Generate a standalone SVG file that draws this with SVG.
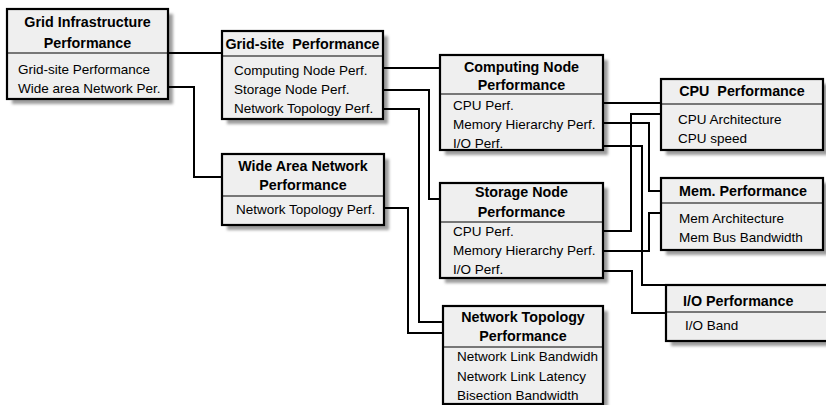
<svg xmlns="http://www.w3.org/2000/svg" width="826" height="405" viewBox="0 0 826 405">
<defs>
<filter id="blur" x="-10%" y="-10%" width="130%" height="130%"><feGaussianBlur stdDeviation="1.5"/></filter>
<style>
.sh{fill:#9c9c9c;filter:url(#blur)}
.box{fill:#efefef;stroke:#000;stroke-width:2.2}
.dv{stroke:#000;stroke-width:1.2}
.t{font-family:"Liberation Sans",Arial,sans-serif;font-weight:bold;font-size:14.3px;text-anchor:middle;fill:#000;white-space:pre}
.i{font-family:"Liberation Sans",Arial,sans-serif;font-size:13.5px;fill:#000}
.c{fill:none;stroke:#000;stroke-width:2}
</style>
</defs>
<rect width="826" height="405" fill="#fff"/>

<g id="grid-infrastructure">
<rect class="sh" x="12" y="14" width="161" height="90"/>
<rect class="box" x="7" y="9" width="161" height="90"/>
<line class="dv" x1="7" y1="53" x2="168" y2="53"/>
<text class="t" x="87.5" y="27">Grid Infrastructure</text>
<text class="t" x="87.5" y="48">Performance</text>
<text class="i" x="18" y="74">Grid-site Performance</text>
<text class="i" x="18" y="93">Wide area Network Per.</text>
</g>

<g id="grid-site">
<rect class="sh" x="227" y="36" width="161" height="88"/>
<rect class="box" x="222" y="31" width="161" height="88"/>
<line class="dv" x1="222" y1="56" x2="383" y2="56"/>
<text class="t" x="302.5" y="49">Grid-site  Performance</text>
<text class="i" x="234" y="75">Computing Node Perf.</text>
<text class="i" x="234" y="94">Storage Node Perf.</text>
<text class="i" x="234" y="113">Network Topology Perf.</text>
</g>

<g id="wide-area-network">
<rect class="sh" x="227" y="159" width="162" height="71"/>
<rect class="box" x="222" y="154" width="162" height="71"/>
<line class="dv" x1="222" y1="196" x2="384" y2="196"/>
<text class="t" x="303" y="171">Wide Area Network</text>
<text class="t" x="303" y="190">Performance</text>
<text class="i" x="236" y="214">Network Topology Perf.</text>
</g>

<g id="computing-node">
<rect class="sh" x="445" y="60" width="163" height="95"/>
<rect class="box" x="440" y="55" width="163" height="95"/>
<line class="dv" x1="440" y1="94" x2="603" y2="94"/>
<text class="t" x="521.5" y="72">Computing Node</text>
<text class="t" x="521.5" y="90">Performance</text>
<text class="i" x="453" y="110">CPU Perf.</text>
<text class="i" x="453" y="129">Memory Hierarchy Perf.</text>
<text class="i" x="453" y="148">I/O Perf.</text>
</g>

<g id="storage-node">
<rect class="sh" x="445" y="188" width="163" height="95"/>
<rect class="box" x="440" y="183" width="163" height="95"/>
<line class="dv" x1="440" y1="222" x2="603" y2="222"/>
<text class="t" x="521.5" y="197">Storage Node</text>
<text class="t" x="521.5" y="217">Performance</text>
<text class="i" x="453" y="236">CPU Perf.</text>
<text class="i" x="453" y="255">Memory Hierarchy Perf.</text>
<text class="i" x="453" y="274">I/O Perf.</text>
</g>

<g id="network-topology">
<rect class="sh" x="448" y="311" width="160" height="98"/>
<rect class="box" x="443" y="306" width="160" height="98"/>
<line class="dv" x1="443" y1="347" x2="603" y2="347"/>
<text class="t" x="523" y="322">Network Topology</text>
<text class="t" x="523" y="341">Performance</text>
<text class="i" x="457" y="361">Network Link Bandwidh</text>
<text class="i" x="457" y="381">Network Link Latency</text>
<text class="i" x="457" y="400">Bisection Bandwidth</text>
</g>

<g id="cpu">
<rect class="sh" x="666" y="84" width="162" height="71"/>
<rect class="box" x="661" y="79" width="162" height="71"/>
<line class="dv" x1="661" y1="104" x2="823" y2="104"/>
<text class="t" x="742" y="96">CPU  Performance</text>
<text class="i" x="678" y="124">CPU Architecture</text>
<text class="i" x="678" y="143">CPU speed</text>
</g>

<g id="mem">
<rect class="sh" x="666" y="183" width="162" height="72"/>
<rect class="box" x="661" y="178" width="162" height="72"/>
<line class="dv" x1="661" y1="203" x2="823" y2="203"/>
<text class="t" x="743" y="196">Mem. Performance</text>
<text class="i" x="679" y="223">Mem Architecture</text>
<text class="i" x="679" y="242">Mem Bus Bandwidth</text>
</g>

<g id="io">
<rect class="sh" x="671" y="290" width="170" height="56"/>
<rect class="box" x="666" y="285" width="170" height="56"/>
<line class="dv" x1="666" y1="312" x2="836" y2="312"/>
<text class="t" x="683" y="306" style="text-anchor:start">I/O Performance</text>
<text class="i" x="685" y="330">I/O Band</text>
</g>

<g id="connectors">
<polyline class="c" points="168,53 222,53"/>
<polyline class="c" points="168,87 194,87 194,177 222,177"/>
<polyline class="c" points="383,68 440,68"/>
<polyline class="c" points="383,90 429,90 429,199 440,199"/>
<polyline class="c" points="383,109 419,109 419,322 443,322"/>
<polyline class="c" points="384,208 408,208 408,333 443,333"/>
<polyline class="c" points="603,103 661,103"/>
<polyline class="c" points="603,231 631,231 631,114 661,114"/>
<polyline class="c" points="603,123 649,123 649,191 661,191"/>
<polyline class="c" points="603,251 649,251 649,213 661,213"/>
<polyline class="c" points="603,146 642,146 642,285 666,285"/>
<polyline class="c" points="603,271 632,271 632,313 666,313"/>
</g>
</svg>
